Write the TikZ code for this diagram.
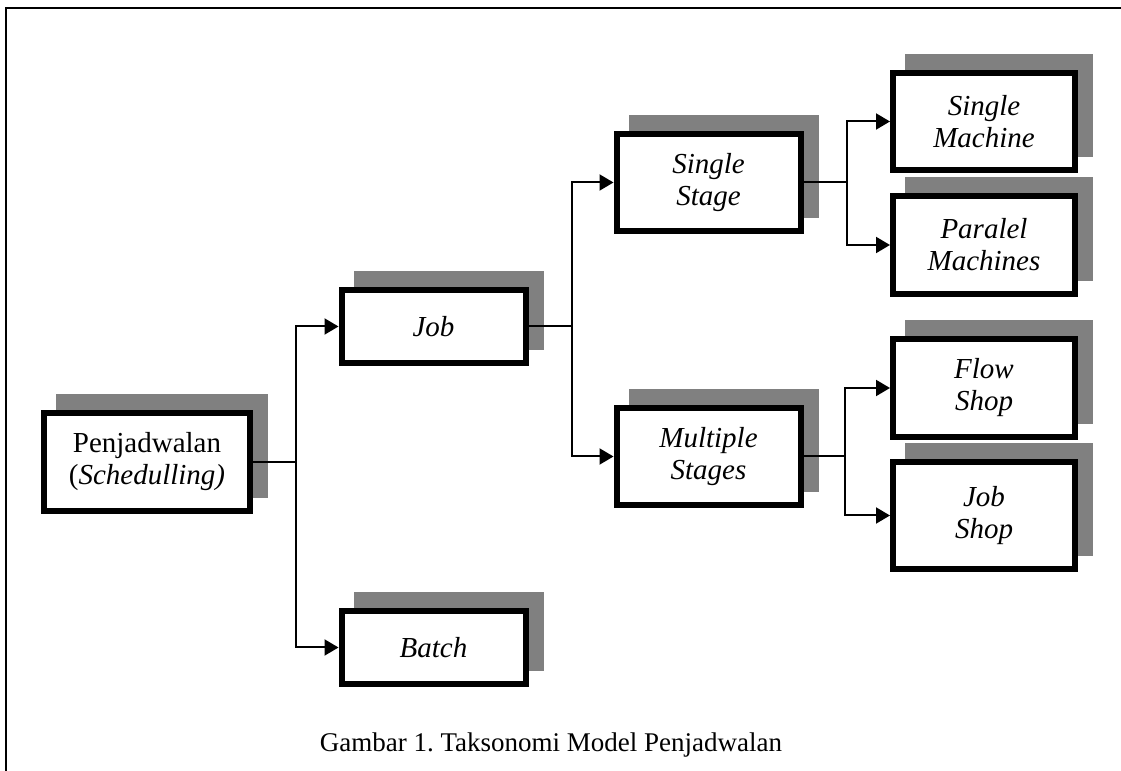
\documentclass[tikz,border=0pt]{standalone}
\usepackage{fontspec}
\setmainfont{Liberation Serif}
\usepackage{xcolor}
\definecolor{ShadeGray}{HTML}{808080}
\usepackage{tikz}
\usetikzlibrary{arrows.meta,positioning,shadows}
\frenchspacing

\begin{document}
\begin{tikzpicture}[
  x=0.5pt, y=0.5pt,
  box/.style={draw, line width=3pt, fill=white, align=center,
              inner sep=2pt, minimum width=92pt, minimum height=36.5pt,
              font=\fontsize{14.5}{16}\selectfont\itshape,
              general shadow={fill=ShadeGray, draw=ShadeGray,
                              shadow xshift=7.5pt, shadow yshift=8pt}},
  tall/.style={minimum height=48.5pt},
  conn/.style={line width=1pt},
  arr/.style={-{Triangle[length=7pt,width=8pt]}, line width=1pt}
]
  \useasboundingbox (0,0) rectangle (1121,771);
  % frame, open at right and bottom
  \draw[line width=1pt] (6,0) -- (6,763) -- (1121,763);

  \node[box, minimum width=103pt, minimum height=49pt] (root) at (147,309)
    {\upshape Penjadwalan\\\upshape(\textit{Schedulling)}};
  \node[box] (job) at (433.5,444.5) {Job};
  \node[box] (batch) at (433.5,123.5) {Batch};
  \node[box, tall] (single) at (708.5,588.5) {Single\\Stage};
  \node[box, tall] (multi) at (708.5,314.5) {Multiple\\Stages};
  \node[box, tall, minimum width=91pt] (smach) at (984,649.5)
    {Single\\Machine};
  \node[box, tall, minimum width=91pt, minimum height=49pt] (pmach)
    at (984,526) {Paralel\\Machines};
  \node[box, tall, minimum width=91pt, minimum height=49pt] (flow)
    at (984,383) {Flow\\Shop};
  \node[box, minimum width=91pt, minimum height=53.5pt] (jshop)
    at (984,255.5) {Job\\Shop};

  \draw[conn] (root.east) -- ++(43,0) coordinate (rsplit);
  \draw[arr] (rsplit) |- (job.west);
  \draw[arr] (rsplit) |- (batch.west);
  \draw[conn] (job.east) -- ++(43,0) coordinate (jsplit);
  \draw[arr] (jsplit) |- (single.west);
  \draw[arr] (jsplit) |- (multi.west);
  \draw[conn] (single.east) -- ++(43,0) coordinate (ssplit);
  \draw[arr] (ssplit) |- (smach.west);
  \draw[arr] (ssplit) |- (pmach.west);
  \draw[conn] (multi.east) -- ++(41,0) coordinate (msplit);
  \draw[arr] (msplit) |- (flow.west);
  \draw[arr] (msplit) |- (jshop.west);

  \node[font=\fontsize{13.5}{16}\selectfont, anchor=base] (caption)
    at (551,19) {Gambar 1. Taksonomi Model Penjadwalan};
\end{tikzpicture}
\end{document}
